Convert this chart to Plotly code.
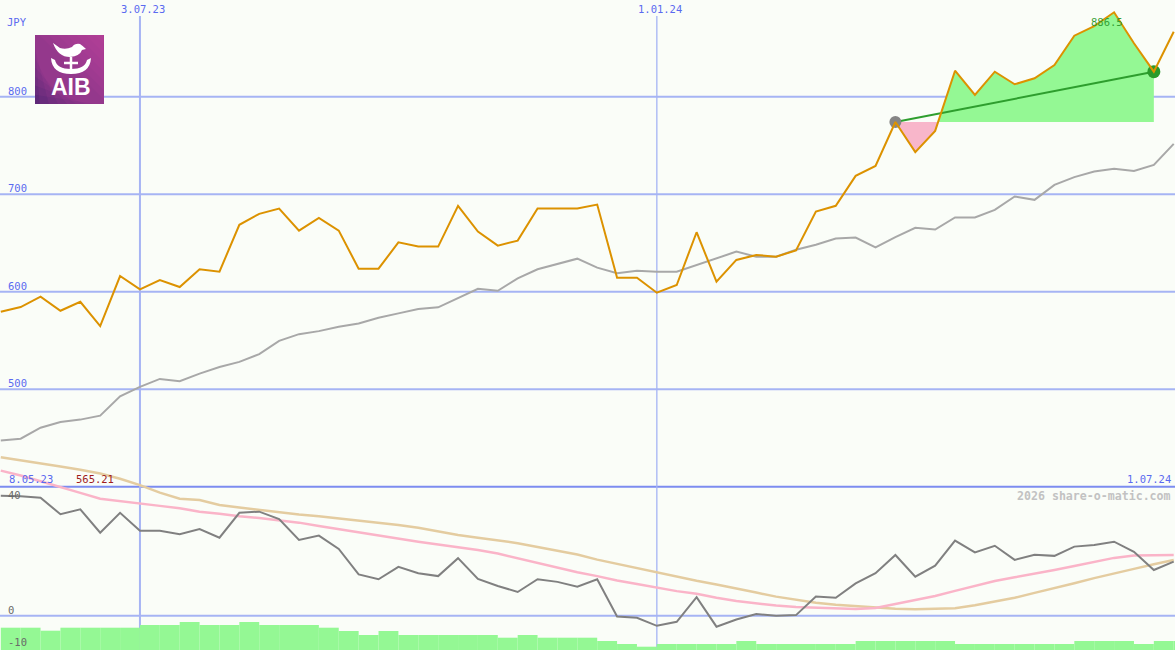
import numpy as np
import pandas as pd
import plotly.graph_objects as go

# ---------------- data ----------------
first_week = "2023-05-15"
n_weeks = 60
dates = pd.date_range(first_week, periods=n_weeks, freq="7D")

price = [579.4, 584.3, 594.9, 580.5, 589.7, 564.7, 616.1, 602.5, 612.0, 604.8,
         623.0, 620.6, 668.6, 679.9, 685.3, 662.7, 675.7, 662.7, 623.6, 623.6,
         650.6, 646.3, 646.3, 688.1, 661.7, 647.3, 652.4, 685.3, 685.3, 685.3,
         689.4, 614.4, 614.4, 599.0, 606.9, 661.0, 610.3, 632.6, 637.7, 636.0,
         642.3, 682.2, 688.1, 718.8, 729.0, 774.0, 743.1, 764.9, 826.6, 801.7,
         825.6, 812.7, 818.8, 832.5, 862.5, 872.4, 886.5, 854.7, 825.6, 866.6]

price_ma = [447.6, 449.3, 460.6, 466.4, 468.9, 473.0, 492.8, 502.4, 510.6, 508.2,
            516.1, 522.9, 528.1, 536.0, 549.6, 556.5, 559.6, 564.0, 567.5, 573.3,
            577.8, 582.2, 584.0, 593.2, 603.1, 601.0, 613.8, 623.0, 628.5, 633.9,
            624.7, 618.9, 621.6, 620.6, 620.6, 627.4, 634.2, 641.1, 636.0, 636.0,
            643.0, 648.1, 654.6, 655.6, 645.4, 656.0, 665.5, 663.8, 676.1, 676.1,
            684.0, 697.6, 694.2, 709.6, 717.5, 723.2, 726.0, 723.9, 730.1, 751.6]

osc = [41.5, 41.3, 40.8, 35.1, 36.8, 28.7, 35.6, 29.4, 29.4, 28.2,
       30.0, 27.0, 35.6, 36.0, 33.4, 26.2, 27.7, 23.1, 14.3, 12.6,
       16.9, 14.7, 13.7, 19.9, 12.7, 10.3, 8.2, 12.6, 11.7, 10.0,
       12.6, -0.3, -0.7, -3.5, -2.1, 6.4, -3.8, -1.3, 0.6, 0.0,
       0.2, 6.6, 6.2, 11.2, 14.7, 21.0, 13.5, 17.3, 26.0, 21.9,
       24.2, 19.3, 21.1, 20.7, 23.9, 24.5, 25.6, 22.1, 15.8, 18.7]

osc_fast = [50.2, 48.5, 46.5, 44.6, 42.5, 40.5, 39.6, 38.8, 38.0, 37.2,
            36.0, 35.3, 34.4, 33.8, 33.1, 32.2, 31.0, 29.9, 28.7, 27.6,
            26.6, 25.6, 24.6, 23.7, 22.7, 21.5, 19.9, 18.3, 16.5, 15.0,
            13.7, 12.2, 11.0, 9.7, 8.5, 7.6, 6.2, 5.1, 4.3, 3.5,
            3.0, 2.7, 2.4, 2.3, 2.7, 4.0, 5.5, 6.8, 8.6, 10.2,
            12.0, 13.3, 14.5, 15.8, 17.2, 18.6, 20.0, 20.8, 21.0, 21.0]

osc_slow = [54.8, 53.8, 52.7, 51.6, 50.5, 49.2, 47.4, 45.2, 42.6, 40.5,
            40.0, 38.3, 37.4, 36.6, 35.6, 35.0, 34.4, 33.7, 32.9, 32.2,
            31.4, 30.4, 29.2, 27.9, 27.0, 26.0, 25.1, 23.8, 22.5, 21.2,
            19.4, 17.9, 16.4, 14.9, 13.5, 12.1, 10.8, 9.5, 8.0, 6.6,
            5.5, 4.5, 3.8, 3.3, 2.8, 2.4, 2.2, 2.3, 2.6, 3.6,
            4.8, 6.2, 7.9, 9.5, 11.2, 13.0, 14.7, 16.2, 17.8, 19.3]

volume = [22.3, 22.3, 19.3, 22.3, 22.3, 22.3, 22.3, 25, 25, 28,
          25, 25, 28, 25, 25, 25, 22.3, 19, 15, 19,
          15, 15, 15, 15, 15, 12.3, 15, 12.3, 12.3, 12.3,
          9, 6, 3.3, 6, 6, 6, 6, 9, 6, 6,
          6, 6, 6, 9, 9, 9, 9, 9, 6, 6,
          6, 6, 6, 6, 9, 9, 9, 6, 9, 9]

signal_start = 45
signal_end = 58
max_index = 56

grid_dates = ["2023-07-03", "2024-01-01"]
grid_date_labels = ["3.07.23", "1.01.24"]
price_ticks = [500, 600, 700, 800]
osc_ticks = [40, 0, -10]
osc_tick_labels = ["40", "0", "-10"]
panel_split = 400

# ---------------- styles ----------------
W, H = 1175, 650
BG = "#fafdf8"
GRID = "#a6b4f4"
SPLIT = "#7c8cf0"
BLUE_TXT = "#5a6af0"
FONT = "DejaVu Sans Mono"

x_range = [dates[0] - pd.Timedelta(hours=6.7), dates[0] + pd.Timedelta(days=413.45)]
price_range = [232.7, 899.1]
osc_range = [-11.87, 213.04]
vol_range = [0, 650]

fig = go.Figure()

# volume bars
fig.add_trace(go.Bar(x=dates, y=volume, width=7 * 86400000, offset=0,
                     marker=dict(color="#94f894", line=dict(width=0)),
                     yaxis="y3", hoverinfo="skip"))

# signal fill between price and entry level
seg_x = dates[signal_start:signal_end + 1].asi8.astype(float)
seg_y = np.array(price[signal_start:signal_end + 1], dtype=float)
base = seg_y[0]
px_, py_ = [seg_x[0]], [seg_y[0]]
for i in range(1, len(seg_x)):
    a, b = seg_y[i - 1] - base, seg_y[i] - base
    if a * b < 0:
        t = a / (a - b)
        px_.append(seg_x[i - 1] + t * (seg_x[i] - seg_x[i - 1]))
        py_.append(base)
    px_.append(seg_x[i])
    py_.append(seg_y[i])
px_ = np.array(px_)
py_ = np.array(py_)
fx = list(pd.to_datetime(px_.astype("int64")))
fx_loop = fx + fx[::-1]
fig.add_trace(go.Scatter(x=fx_loop, y=list(np.maximum(py_, base)) + [base] * len(fx),
                         fill="toself", fillcolor="#94f894", mode="none", hoverinfo="skip"))
fig.add_trace(go.Scatter(x=fx_loop, y=list(np.minimum(py_, base)) + [base] * len(fx),
                         fill="toself", fillcolor="#f8b6ca", mode="none", hoverinfo="skip"))

# price moving average
fig.add_trace(go.Scatter(x=dates, y=price_ma, mode="lines",
                         line=dict(color="#a8a8a8", width=2), hoverinfo="skip"))

# lower panel lines
fig.add_trace(go.Scatter(x=dates, y=osc_slow, mode="lines", yaxis="y2",
                         line=dict(color="#e4cca0", width=2.5), hoverinfo="skip"))
fig.add_trace(go.Scatter(x=dates, y=osc_fast, mode="lines", yaxis="y2",
                         line=dict(color="#fab4c8", width=2.5), hoverinfo="skip"))
fig.add_trace(go.Scatter(x=dates, y=osc, mode="lines", yaxis="y2",
                         line=dict(color="#808080", width=2), hoverinfo="skip"))

# trend line and markers
fig.add_trace(go.Scatter(x=[dates[signal_start], dates[signal_end]],
                         y=[price[signal_start], price[signal_end]], mode="lines",
                         line=dict(color="#2e9e2e", width=2), hoverinfo="skip"))
fig.add_trace(go.Scatter(x=[dates[signal_start]], y=[price[signal_start]], mode="markers",
                         marker=dict(color="#858585", size=12), hoverinfo="skip"))
fig.add_trace(go.Scatter(x=[dates[signal_end]], y=[price[signal_end]], mode="markers",
                         marker=dict(color="#2a9a2a", size=13), hoverinfo="skip"))

# price line
fig.add_trace(go.Scatter(x=dates, y=price, mode="lines",
                         line=dict(color="#dc9200", width=2), hoverinfo="skip"))

# ---------------- shapes ----------------
shapes = []
for t in price_ticks:
    shapes.append(dict(type="line", xref="paper", x0=0, x1=1, yref="y", y0=t, y1=t,
                       line=dict(color=GRID, width=2), layer="below"))
shapes.append(dict(type="line", xref="paper", x0=0, x1=1, yref="y2", y0=0, y1=0,
                   line=dict(color=GRID, width=2), layer="below"))
shapes.append(dict(type="line", xref="paper", x0=0, x1=1, yref="y", y0=panel_split, y1=panel_split,
                   line=dict(color=SPLIT, width=2), layer="below"))
for d, wdt in zip(grid_dates, [2, 1.3]):
    shapes.append(dict(type="line", xref="x", x0=d, x1=d, yref="paper", y0=0, y1=1 - 16 / H,
                       line=dict(color=GRID, width=wdt), layer="below"))


def pp(x, y):
    return f"{x / W:.5f},{1 - y / H:.5f}"


# logo: purple square with a diagonal gradient built from stacked translucent triangles
LX0, LY0, LS = 35, 35, 69
shapes.append(dict(type="rect", xref="paper", yref="paper", x0=LX0 / W, x1=(LX0 + LS) / W,
                   y0=1 - (LY0 + LS) / H, y1=1 - LY0 / H, fillcolor="#5e2878",
                   line=dict(width=0), layer="above"))
for k in range(1, 15):
    s = LS * 2 * k / 15
    if s <= LS:
        path = "M " + pp(LX0 + LS - s, LY0) + " L " + pp(LX0 + LS, LY0) + " L " + \
               pp(LX0 + LS, LY0 + s) + " Z"
    else:
        e = s - LS
        path = "M " + pp(LX0, LY0) + " L " + pp(LX0 + LS, LY0) + " L " + \
               pp(LX0 + LS, LY0 + LS) + " L " + pp(LX0 + e, LY0 + LS) + " L " + \
               pp(LX0, LY0 + e) + " Z"
    shapes.append(dict(type="path", xref="paper", yref="paper", path=path,
                       fillcolor="#d84aa8", opacity=0.09, line=dict(width=0), layer="above"))
bird = ("M " + pp(53, 43) + " L " + pp(60, 48) + " Q " + pp(66, 50) + " " + pp(72, 47) +
        " Q " + pp(75, 43) + " " + pp(80, 44) + " Q " + pp(83, 46) + " " + pp(86, 49) +
        " L " + pp(82, 50) + " Q " + pp(80, 56) + " " + pp(70, 57) +
        " Q " + pp(58, 57) + " " + pp(53, 43) + " Z")
shapes.append(dict(type="path", xref="paper", yref="paper", path=bird,
                   fillcolor="white", line=dict(width=0), layer="above"))
bowl = ("M " + pp(51, 58) + " Q " + pp(52, 74) + " " + pp(71, 74) + " Q " + pp(90, 74) + " " +
        pp(91, 58) + " L " + pp(87, 60) + " Q " + pp(85, 69) + " " + pp(71, 69) +
        " Q " + pp(57, 69) + " " + pp(55, 60) + " Z")
shapes.append(dict(type="path", xref="paper", yref="paper", path=bowl,
                   fillcolor="white", line=dict(width=0), layer="above"))
for (xa, ya, xb, yb) in [(71, 57, 71, 70), (64, 63, 78, 63)]:
    shapes.append(dict(type="line", xref="paper", yref="paper", x0=xa / W, x1=xb / W,
                       y0=1 - ya / H, y1=1 - yb / H, line=dict(color="white", width=2.5),
                       layer="above"))

# ---------------- annotations ----------------
ann = []


def txt(text, x, y, color, xanchor="left", size=10, bold=False, family=FONT, **kw):
    d = dict(text=f"<b>{text}</b>" if bold else text, x=x, y=y, showarrow=False,
             xanchor=xanchor, yanchor="middle",
             font=dict(family=family, size=size, color=color), **kw)
    d.setdefault("xref", "paper")
    d.setdefault("yref", "paper")
    ann.append(d)


txt("AIB", 70.5 / W, 1 - 86.5 / H, "white", xanchor="center", size=23, bold=True,
    family="Liberation Sans")
txt("JPY", 5 / W, 1 - 21.7 / H, BLUE_TXT, size=10.5)
for d, lab in zip(grid_dates, grid_date_labels):
    txt(lab, d, 1 - 9 / H, BLUE_TXT, xanchor="center", xref="x", xshift=3, size=10.5)
for t in price_ticks:
    txt(str(t), 6 / W, t, BLUE_TXT, yref="y", yshift=6, size=10.5)
for t, lab, sh in zip(osc_ticks, osc_tick_labels, [5, 6, 3]):
    txt(lab, 6 / W, t, "#6a6a6a", yref="y2", yshift=sh, size=10.5)
txt(f"{price[max_index]:.1f}", dates[max_index], 1 - 21.7 / H, "#34a034",
    xanchor="center", xref="x", xshift=-7, size=10.5)
txt("8.05.23", 7 / W, 1 - 479.3 / H, BLUE_TXT, size=10.5)
txt("565.21", 74 / W, 1 - 479.3 / H, "#a01c1c", size=10.5)
txt("1.07.24", 1172.5 / W, 1 - 479 / H, BLUE_TXT, xanchor="right", size=10.5)
txt("2026 share-o-matic.com", 1172.5 / W, 1 - 495.7 / H, "#c2c2c2", xanchor="right",
    size=11.6, bold=True)

fig.update_layout(
    width=W, height=H, autosize=False,
    margin=dict(l=0, r=0, t=0, b=0, pad=0),
    paper_bgcolor=BG, plot_bgcolor=BG,
    showlegend=False,
    xaxis=dict(type="date", range=x_range, visible=False, showgrid=False, zeroline=False),
    yaxis=dict(range=price_range, visible=False, showgrid=False, zeroline=False),
    yaxis2=dict(range=osc_range, overlaying="y", visible=False, showgrid=False, zeroline=False),
    yaxis3=dict(range=vol_range, overlaying="y", visible=False, showgrid=False, zeroline=False),
    shapes=shapes,
    annotations=ann,
)

fig.write_html("out.html", config={"displayModeBar": False},
               post_script="document.body.style.margin='0';document.body.style.padding='0';"
                           "document.body.style.background='" + BG + "';")
